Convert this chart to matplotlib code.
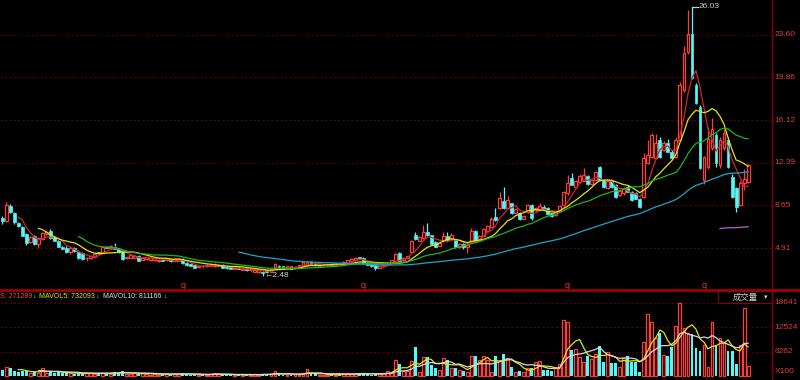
import numpy as np
import pandas as pd
import matplotlib
matplotlib.use("Agg")
import matplotlib.pyplot as plt
from matplotlib.lines import Line2D
from matplotlib.patches import Rectangle

plt.rcParams['font.family'] = ['Liberation Sans', 'DejaVu Sans', 'Noto Sans CJK SC']

# ---- daily candles (price) ----
opens = [7.55, 7.29, 8.60, 7.96, 7.14, 6.79, 6.12, 5.42, 6.00, 5.25,
         5.71, 6.12, 6.41, 5.91, 5.54, 5.04, 4.95, 4.55, 4.90, 4.60,
         4.46, 4.00, 4.02, 4.13, 4.55, 4.55, 5.00, 4.90, 5.05, 4.85,
         4.66, 4.00, 4.05, 4.05, 4.20, 3.90, 3.95, 3.85, 3.85, 3.75,
         3.90, 3.85, 3.90, 3.80, 3.80, 3.90, 3.60, 3.55, 3.40, 3.25,
         3.35, 3.30, 3.35, 3.30, 3.35, 3.45, 3.25, 3.25, 3.10, 3.20,
         3.00, 3.10, 2.95, 2.85, 2.80, 2.85, 2.95, 2.85, 3.20, 3.35,
         3.30, 3.20, 3.30, 3.15, 3.25, 3.35, 3.45, 3.70, 3.55, 3.35,
         3.40, 3.40, 3.50, 3.40, 3.55, 3.45, 3.60, 3.75, 3.85, 4.10,
         4.05, 3.60, 3.45, 3.40, 3.20, 3.30, 3.45, 3.60, 3.65, 4.50,
         3.85, 4.05, 4.60, 6.05, 5.55, 5.80, 6.35, 6.05, 5.45, 5.10,
         5.50, 6.00, 5.70, 5.60, 5.00, 5.30, 5.05, 5.45, 6.40, 5.60,
         6.00, 6.40, 6.80, 7.60, 8.40, 9.00, 8.40, 8.85, 8.00, 8.00,
         7.50, 8.10, 8.70, 8.25, 8.35, 8.55, 8.45, 7.95, 7.80, 8.15,
         8.70, 9.70, 11.05, 10.30, 10.70, 10.80, 11.20, 10.50, 10.90, 12.00,
         10.90, 10.20, 10.75, 10.45, 9.55, 9.70, 10.30, 9.85, 9.70, 9.20,
         9.40, 12.35, 12.90, 12.80, 14.40, 13.50, 14.10, 13.35, 12.90, 14.40,
         18.80, 22.10, 23.70, 19.20, 17.30, 10.90, 12.00, 13.70, 14.80, 12.20,
         13.70, 14.40, 11.10, 10.20, 8.70, 10.60, 10.70]
highs = [7.70, 8.93, 8.75, 8.10, 7.20, 6.85, 6.20, 6.00, 6.10, 5.85,
         6.30, 6.50, 6.60, 6.00, 5.60, 5.10, 5.05, 5.00, 5.00, 4.70,
         4.60, 4.15, 4.30, 4.50, 4.60, 5.05, 5.10, 5.15, 5.40, 4.95,
         4.70, 4.15, 4.35, 4.30, 4.30, 4.10, 4.15, 4.05, 4.10, 3.95,
         3.95, 4.05, 3.95, 4.00, 4.00, 4.00, 3.65, 3.60, 3.45, 3.40,
         3.40, 3.50, 3.50, 3.60, 3.45, 3.50, 3.30, 3.30, 3.25, 3.25,
         3.15, 3.15, 3.10, 3.05, 3.00, 2.90, 3.00, 3.05, 3.60, 3.40,
         3.35, 3.35, 3.35, 3.30, 3.45, 3.75, 3.70, 3.75, 3.60, 3.50,
         3.50, 3.55, 3.55, 3.55, 3.60, 3.80, 3.90, 4.00, 4.10, 4.15,
         4.10, 3.65, 3.50, 3.45, 3.35, 3.50, 3.65, 3.90, 4.50, 4.55,
         4.10, 4.25, 5.60, 6.30, 6.00, 6.95, 7.10, 6.10, 5.50, 5.40,
         6.30, 6.30, 6.20, 5.70, 5.35, 5.35, 5.20, 6.70, 6.50, 6.10,
         6.70, 6.95, 7.60, 8.40, 9.80, 10.25, 9.50, 8.90, 8.40, 8.10,
         7.80, 8.80, 8.80, 8.50, 8.90, 8.70, 8.50, 8.00, 8.15, 8.70,
         9.90, 11.30, 11.50, 10.90, 11.40, 11.90, 11.30, 10.95, 11.70, 12.10,
         11.00, 10.80, 10.85, 10.50, 10.00, 10.25, 10.40, 9.95, 9.80, 9.30,
         13.20, 14.40, 15.00, 14.90, 14.60, 14.30, 14.50, 13.50, 14.60, 19.50,
         22.60, 25.80, 26.03, 19.40, 17.40, 13.00, 15.50, 16.30, 15.00, 14.60,
         15.30, 14.60, 11.40, 10.30, 10.80, 11.80, 12.30]
lows = [7.05, 7.20, 7.95, 7.00, 6.80, 5.95, 5.20, 5.35, 5.20, 4.95,
        5.65, 6.05, 5.70, 5.50, 5.00, 4.80, 4.50, 4.40, 4.60, 3.95,
        3.90, 3.80, 3.95, 4.10, 4.40, 4.50, 4.90, 4.85, 4.80, 4.50,
        3.90, 3.95, 4.00, 4.00, 3.75, 3.85, 3.90, 3.80, 3.80, 3.70,
        3.75, 3.80, 3.70, 3.75, 3.75, 3.55, 3.35, 3.30, 3.15, 3.20,
        3.25, 3.25, 3.30, 3.25, 3.30, 3.15, 3.10, 3.05, 3.05, 3.05,
        2.95, 2.90, 2.90, 2.80, 2.75, 2.48, 2.75, 2.80, 3.15, 3.20,
        3.15, 3.15, 3.05, 3.10, 3.20, 3.30, 3.40, 3.50, 3.35, 3.30,
        3.35, 3.35, 3.35, 3.35, 3.45, 3.40, 3.55, 3.70, 3.80, 4.00,
        3.55, 3.40, 3.25, 3.00, 3.15, 3.25, 3.40, 3.55, 3.60, 3.70,
        3.80, 4.00, 4.55, 5.60, 5.50, 5.75, 6.00, 5.25, 5.00, 5.05,
        5.45, 5.55, 5.65, 4.95, 4.95, 4.80, 4.50, 5.40, 5.45, 5.55,
        5.95, 6.35, 6.75, 7.30, 8.35, 8.30, 8.30, 7.90, 7.95, 7.40,
        7.45, 8.00, 7.35, 8.10, 8.30, 8.30, 7.85, 7.60, 7.75, 8.10,
        8.65, 9.60, 10.40, 10.20, 10.65, 10.75, 10.45, 10.40, 10.85, 10.85,
        10.20, 10.10, 10.20, 9.30, 9.45, 9.60, 9.80, 9.00, 9.20, 8.40,
        9.30, 12.30, 12.80, 12.70, 12.80, 13.40, 13.30, 12.70, 12.80, 14.30,
        18.60, 21.90, 19.70, 17.50, 11.80, 10.50, 11.80, 13.50, 12.00, 11.90,
        13.50, 11.90, 9.30, 8.10, 8.60, 10.00, 10.60]
closes = [7.25, 8.69, 8.10, 7.23, 6.85, 6.00, 5.33, 5.91, 5.25, 5.77,
          6.21, 6.35, 5.77, 5.54, 5.04, 4.85, 4.55, 4.95, 4.65, 4.02,
          3.96, 4.05, 4.22, 4.43, 4.50, 4.98, 4.95, 5.10, 4.85, 4.55,
          3.96, 4.10, 4.30, 4.20, 3.80, 4.05, 4.10, 4.00, 4.00, 3.90,
          3.80, 4.00, 3.75, 3.95, 3.95, 3.60, 3.40, 3.35, 3.20, 3.35,
          3.30, 3.45, 3.45, 3.45, 3.40, 3.20, 3.15, 3.10, 3.20, 3.10,
          3.10, 2.95, 3.05, 3.00, 2.95, 2.70, 2.80, 3.00, 3.50, 3.25,
          3.20, 3.30, 3.10, 3.25, 3.40, 3.70, 3.65, 3.55, 3.40, 3.45,
          3.45, 3.50, 3.40, 3.50, 3.50, 3.65, 3.85, 3.95, 4.05, 4.05,
          3.60, 3.45, 3.30, 3.15, 3.30, 3.45, 3.60, 3.85, 4.40, 3.75,
          4.05, 4.20, 5.55, 5.70, 5.90, 6.30, 6.05, 5.30, 5.05, 5.35,
          6.00, 5.60, 6.10, 5.00, 5.30, 5.05, 5.15, 6.45, 5.50, 6.00,
          6.60, 6.85, 7.45, 7.40, 9.30, 8.40, 9.10, 8.00, 8.30, 7.45,
          7.75, 8.70, 7.55, 8.45, 8.60, 8.35, 7.90, 7.70, 8.10, 8.60,
          9.85, 10.60, 10.45, 10.80, 11.25, 11.30, 10.50, 10.85, 11.60, 10.90,
          10.30, 10.75, 10.30, 9.40, 9.95, 10.15, 9.85, 9.15, 9.25, 8.55,
          12.80, 13.10, 14.80, 14.10, 12.90, 14.10, 13.35, 12.80, 14.40, 19.20,
          22.00, 23.70, 19.80, 17.60, 11.90, 12.90, 14.50, 15.30, 12.40, 14.40,
          15.00, 12.00, 9.40, 8.50, 10.60, 11.00, 12.20]
# volume in units of 100 shares
volumes = [1650, 2500, 2100, 1400, 1100, 1500, 1300, 1000, 1200, 900,
           2100, 1000, 1400, 1000, 1100, 900, 800, 900, 700, 800,
           700, 900, 800, 700, 1000, 800, 900, 700, 1200, 1000,
           1400, 600, 700, 800, 600, 900, 700, 500, 600, 500,
           700, 600, 500, 700, 600, 800, 700, 500, 400, 500,
           400, 500, 600, 900, 600, 500, 400, 500, 400, 500,
           400, 500, 400, 600, 500, 700, 500, 600, 1400, 600,
           500, 400, 500, 600, 500, 900, 1800, 800, 600, 500,
           400, 500, 400, 500, 600, 700, 800, 600, 700, 900,
           800, 600, 500, 700, 600, 800, 1400, 900, 4200, 3170,
           1500, 1300, 3930, 7560, 1060, 5020, 5020, 2900, 2200, 1650,
           4600, 4180, 2200, 2200, 1650, 1400, 1200, 5280, 5280, 4180,
           5280, 4180, 1060, 5280, 3930, 5700, 4770, 2500, 1200, 1400,
           1060, 2070, 2070, 3760, 3930, 1650, 1650, 1400, 2200, 3080,
           14330, 13900, 6720, 6970, 5020, 3760, 5280, 4430, 5620, 7730,
           3590, 6300, 3340, 3510, 2500, 4770, 5280, 3760, 3760, 1060,
           8670, 15770, 13900, 9680, 10950, 5450, 5280, 7560, 12880, 18641,
           12220, 11120, 10700, 7300, 6470, 7990, 2500, 13900, 7990, 9680,
           8420, 6470, 6470, 3080, 7990, 17290, 2713]

price_grid = [23.60, 19.86, 16.12, 12.39, 8.65, 4.91]
vol_grid = [18641, 12524, 6262]
ma_windows = [5, 10, 20, 60, 180]
ma_colors = ['#c8282c', '#e6e600', '#1eb41e', '#1aa6c8', '#c060d0']
q_marks = [45, 90, 141, 175]

RED = '#ff3c3c'
CYAN = '#54f8f8'
GRID = '#5a0000'
LBL = '#e03c3c'

o = np.array(opens); h = np.array(highs); l = np.array(lows); c = np.array(closes)
v = np.array(volumes)
idx = np.arange(len(c))
up = c >= o
col = np.where(up, RED, CYAN)

fig = plt.figure(figsize=(8, 3.8), dpi=100, facecolor='black')
axp = fig.add_axes([0, 90/380, 772/800, 290/380], facecolor='black')
axv = fig.add_axes([0, 0, 772/800, 90/380], facecolor='black')
for ax in (axp, axv):
    ax.set_xlim(-0.574, 191.96)
    ax.set_xticks([]); ax.set_yticks([])
    for s in ax.spines.values():
        s.set_visible(False)
axp.set_ylim(1.24, 26.64)
axv.set_ylim(-888, 21936)

# grid + right labels
for g in price_grid:
    axp.axhline(g, color=GRID, lw=0.8, ls=(0, (2, 2)), zorder=1)
    axp.text(1.003, g, f'{g:.2f}', transform=axp.get_yaxis_transform(),
             color=LBL, fontsize=6, va='center', ha='left', clip_on=False)
for g in vol_grid:
    axv.axhline(g, color=GRID, lw=0.8, ls=(0, (2, 2)), zorder=1)
    axv.text(1.003, g, str(g), transform=axv.get_yaxis_transform(),
             color=LBL, fontsize=6, va='center', ha='left', clip_on=False)
axv.text(1.003, 4.5 * 253.6, 'X100', transform=axv.get_yaxis_transform(),
         color=LBL, fontsize=6, va='center', ha='left', clip_on=False)

# candles
bot = np.minimum(o, c); top = np.maximum(o, c)
hgt = np.maximum(top - bot, 0.03)
axp.vlines(idx, top, h, colors=col, lw=0.9, zorder=2)
axp.vlines(idx, l, bot, colors=col, lw=0.9, zorder=2)
axp.bar(idx[up], hgt[up], bottom=bot[up], width=0.72, facecolor='black',
        edgecolor=RED, linewidth=0.9, zorder=3)
axp.bar(idx[~up], hgt[~up], bottom=bot[~up], width=0.72, color=CYAN,
        edgecolor=CYAN, linewidth=0.5, zorder=3)

# moving averages
cs = pd.Series(c)
for w, mc in zip(ma_windows, ma_colors):
    axp.plot(idx, cs.rolling(w).mean(), color=mc, lw=0.9, zorder=4)

# extreme labels
ihi = int(np.argmax(h)); ilo = int(np.argmin(l))
axp.plot([ihi, ihi + 1.5], [h[ihi], h[ihi]], color='#d0d0d0', lw=0.9, zorder=5)
axp.text(ihi + 1.6, h[ihi], f'{h[ihi]:.2f}', color='#d0d0d0', fontsize=6,
         va='center', ha='left')
axp.text(ilo + 0.3, l[ilo], f'\u2190{l[ilo]:.2f}', color='#d0d0d0', fontsize=6,
         va='center', ha='left')

for q in q_marks:
    axp.text(q, 1.24, 'q', color=LBL, fontsize=6.5, va='bottom', ha='center')

# volume bars
axv.bar(idx[up], v[up], width=0.72, facecolor='black', edgecolor=RED,
        linewidth=0.9, zorder=3)
axv.bar(idx[~up], v[~up], width=0.72, color=CYAN, zorder=3)
vs = pd.Series(v.astype(float))
axv.plot(idx, vs.rolling(5).mean(), color='#e6e600', lw=0.9, zorder=4)
axv.plot(idx, vs.rolling(10).mean(), color='#d8d8d8', lw=0.9, zorder=4)

# frame lines
fig.add_artist(Line2D([0, 1], [90/380, 90/380], color='#a00000', lw=2))
fig.add_artist(Line2D([772/800, 772/800], [0, 1], color='#8a0000', lw=1))

# volume header
yh = 1 - 296/380
fs = 5
fig.text(0/800, yh, 'S: 271289', color='#ff4040', fontsize=fs, va='center')
fig.text(32/800, yh, '\u2193', color=CYAN, fontsize=fs, va='center')
fig.text(39/800, yh, 'MAVOL5: 732093', color='#e6e600', fontsize=fs, va='center')
fig.text(95/800, yh, '\u2193', color=CYAN, fontsize=fs, va='center')
fig.text(103/800, yh, 'MAVOL10: 811166', color='#e0e0e0', fontsize=fs, va='center')
fig.text(163/800, yh, '\u2193', color=CYAN, fontsize=fs, va='center')
fig.add_artist(Rectangle((718/800, 1 - 303/380), 54/800, 12/380, transform=fig.transFigure,
                         facecolor='black', edgecolor='#8a0000', lw=0.8))
fig.text(745/800, 1 - 297/380, '成交量', color='#d0d0d0', fontsize=6, va='center',
         ha='center', family=['Noto Sans CJK SC', 'DejaVu Sans'])
fig.text(766/800, 1 - 297/380, '\u25be', color='#d0d0d0', fontsize=5, va='center',
         ha='center', family=['DejaVu Sans'])

fig.savefig('out.png', dpi=100, facecolor='black')
